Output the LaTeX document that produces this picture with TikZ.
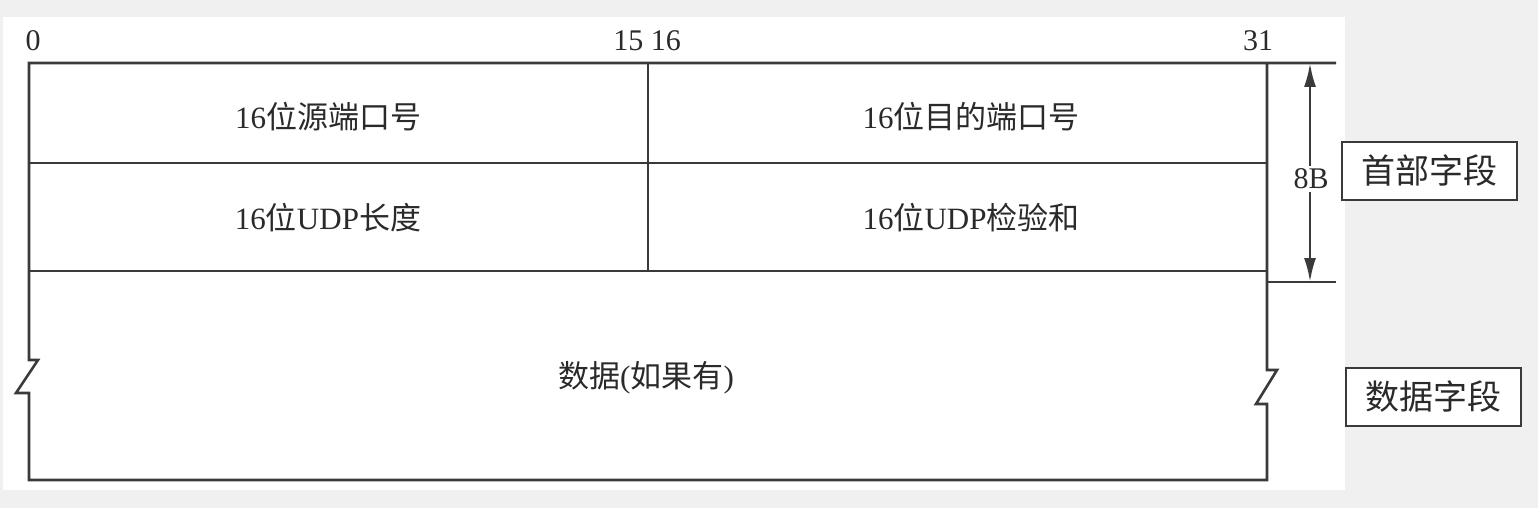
\documentclass[tikz,border=0pt]{standalone}
\usepackage{fontspec}
\setmainfont{Liberation Serif}
\newfontfamily\cjk{Noto Sans CJK SC}
\usetikzlibrary{arrows.meta}
\definecolor{bggray}{HTML}{F0F0F0}
\definecolor{ink}{HTML}{3A3A3A}
\definecolor{txt}{HTML}{2A2A2A}
\tikzset{
  frame/.style={draw=ink, line width=2.6pt, line join=miter},
  cell/.style={font=\fontsize{31}{34}\selectfont, text=txt, inner sep=0pt},
  tick/.style={font=\fontsize{30}{32}\selectfont, text=txt, inner sep=0pt},
  tag/.style={draw=ink, line width=1.8pt, fill=white, minimum width=175pt, minimum height=58pt,
              font=\cjk\fontsize{34}{36}\selectfont, text=txt, inner sep=0pt},
  dim/.style={draw=ink, line width=2.6pt, {Latex[length=24pt,width=12pt]}-{Latex[length=24pt,width=12pt]}}
}
\begin{document}
\begin{tikzpicture}[x=1pt,y=-1pt]
\useasboundingbox (0,0) rectangle (1538,508);
\fill[bggray] (0,0) rectangle (1538,508);
\fill[white] (3,17) rectangle (1345,490);

% corner coordinates
\coordinate (tl) at (29,63);
\coordinate (tr) at (1267,63);
\coordinate (mt) at (648,63);
\coordinate (mb) at (648,271);
\coordinate (r1l) at (29,163);
\coordinate (r1r) at (1267,163);
\coordinate (r2l) at (29,271);
\coordinate (r2r) at (1267,271);
\coordinate (bl) at (29,480);
\coordinate (br) at (1267,480);
\coordinate (ext1) at (1336,63);
\coordinate (ext2) at (1336,282);
\coordinate (ext2l) at (1267,282);
\coordinate (dimtop) at (1310,63);
\coordinate (dimbot) at (1310,282);

% outline with break marks
\draw[frame] (ext1) -- (tl) -- (29,360) -- (38,360) -- (16,393) -- (29,393) -- (bl) -- (br)
  -- (1267,404) -- (1256,404) -- (1277,370) -- (1267,370) -- (tr);
\draw[frame] (r1l) -- (r1r);
\draw[frame] (r2l) -- (r2r);
\draw[frame] (mt) -- (mb);
\draw[frame] (ext2l) -- (ext2);

% dimension arrow
\draw[dim] (dimtop) -- (dimbot);
\node[tick, fill=white, inner sep=3pt] (eightB) at (1311,179) {8B};

% bit numbers
\node[tick] (b0) at (33,41) {0};
\node[tick] (b15) at (647,41) {15 16};
\node[tick] (b31) at (1258,41) {31};

% field labels
\node[cell] (src) at (328,117) {16{\cjk 位源端口号}};
\node[cell] (dst) at (971,117) {16{\cjk 位目的端口号}};
\node[cell] (len) at (328,218) {16{\cjk 位}UDP{\cjk 长度}};
\node[cell] (chk) at (971,218) {16{\cjk 位}UDP{\cjk 检验和}};
\node[cell] (data) at (646,378) {{\cjk 数据}({\cjk 如果有})};

% side tags
\node[tag] (hdr) at (1429.5,171) {首部字段};
\node[tag] (dat) at (1433.5,397) {数据字段};
\end{tikzpicture}
\end{document}
